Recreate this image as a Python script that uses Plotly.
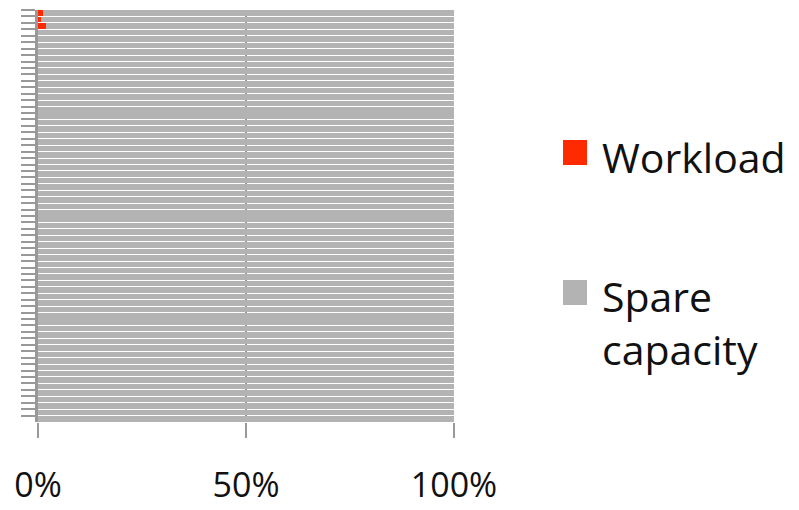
import plotly.graph_objects as go

# 64 hosts, share of capacity in percent
hosts = [f"Host {i:02d}" for i in range(1, 65)]

workload = [
    1.2, 0.7, 1.9, 0.0, 0.0, 0.0, 0.0, 0.0,
    0.0, 0.0, 0.0, 0.0, 0.0, 0.0, 0.0, 0.0,
    0.0, 0.0, 0.0, 0.0, 0.0, 0.0, 0.0, 0.0,
    0.0, 0.0, 0.0, 0.0, 0.0, 0.0, 0.0, 0.0,
    0.0, 0.0, 0.0, 0.0, 0.0, 0.0, 0.0, 0.0,
    0.0, 0.0, 0.0, 0.0, 0.0, 0.0, 0.0, 0.0,
    0.0, 0.0, 0.0, 0.0, 0.0, 0.0, 0.0, 0.0,
    0.0, 0.0, 0.0, 0.0, 0.0, 0.0, 0.0, 0.0,
]

spare_capacity = [
    98.8, 99.3, 98.1, 100.0, 100.0, 100.0, 100.0, 100.0,
    100.0, 100.0, 100.0, 100.0, 100.0, 100.0, 100.0, 100.0,
    100.0, 100.0, 100.0, 100.0, 100.0, 100.0, 100.0, 100.0,
    100.0, 100.0, 100.0, 100.0, 100.0, 100.0, 100.0, 100.0,
    100.0, 100.0, 100.0, 100.0, 100.0, 100.0, 100.0, 100.0,
    100.0, 100.0, 100.0, 100.0, 100.0, 100.0, 100.0, 100.0,
    100.0, 100.0, 100.0, 100.0, 100.0, 100.0, 100.0, 100.0,
    100.0, 100.0, 100.0, 100.0, 100.0, 100.0, 100.0, 100.0,
]

x_ticks = [0, 50, 100]
x_tick_labels = ["0%", "50%", "100%"]

RED = "#FF2A00"
GREY = "#B3B3B3"
AXIS = "#999999"
FONT = "Open Sans"

fig = go.Figure()
fig.add_trace(go.Bar(
    y=hosts, x=workload, orientation="h", name="Workload",
    marker=dict(color=RED, line=dict(width=0)), showlegend=False,
))
fig.add_trace(go.Bar(
    y=hosts, x=spare_capacity, orientation="h", name="Spare capacity",
    marker=dict(color=GREY, line=dict(width=0)), showlegend=False,
))

# legend drawn as swatches + labels to the right of the plot
def py(px):
    """pixel row -> paper y for a plot area spanning rows 10..422"""
    return 1 - (px - 10) / 412

def px_x(px):
    return (px - 38) / 416

for color, top in [(RED, 140), (GREY, 280)]:
    fig.add_shape(
        type="rect", xref="paper", yref="paper",
        x0=px_x(563), x1=px_x(587), y0=py(top + 25), y1=py(top),
        fillcolor=color, line=dict(width=0),
    )

fig.add_annotation(
    text="Workload", xref="paper", yref="paper",
    x=px_x(600), y=py(157), xanchor="left", yanchor="middle",
    align="left", showarrow=False,
    font=dict(family=FONT, size=41, color="#111111"),
)
fig.add_annotation(
    text="Spare<br>capacity", xref="paper", yref="paper",
    x=px_x(600), y=py(266), xanchor="left", yanchor="top",
    align="left", showarrow=False,
    font=dict(family=FONT, size=41, color="#111111"),
)

fig.update_layout(
    width=799, height=510,
    margin=dict(l=38, r=345, t=10, b=88),
    barmode="stack", bargap=0.15,
    plot_bgcolor="white", paper_bgcolor="white",
    font=dict(family=FONT, color="#111111"),
)
fig.update_xaxes(
    range=[0, 100], tickvals=x_ticks, ticktext=x_tick_labels,
    showgrid=True, gridcolor=AXIS, gridwidth=2, zeroline=False,
    ticks="outside", ticklen=15, tickwidth=2, tickcolor=AXIS,
    ticklabelstandoff=18, automargin=False,
    tickfont=dict(family=FONT, size=34, color="#111111"),
    showline=False,
)
fig.update_yaxes(
    autorange="reversed", showticklabels=False, dtick=1,
    ticks="outside", tickson="boundaries", ticklen=14, tickwidth=2,
    tickcolor=AXIS, showline=True, linecolor=AXIS, linewidth=3,
    showgrid=False, zeroline=False, automargin=False,
)

fig.write_html("out.html")
